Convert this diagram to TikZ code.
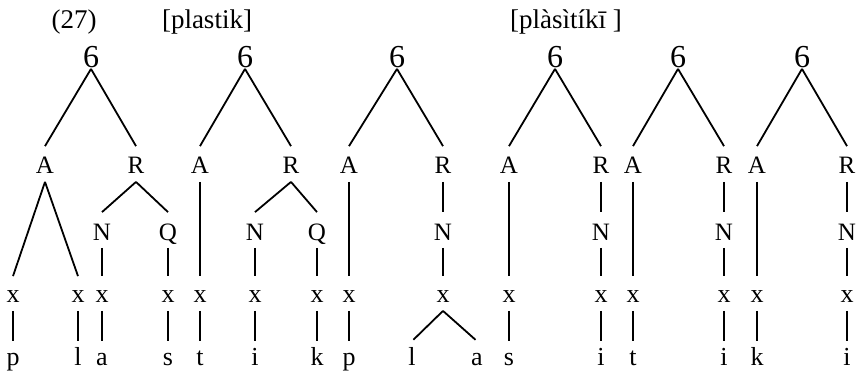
\documentclass[tikz,border=0pt]{standalone}
\usepackage{fontspec}
\setmainfont{Liberation Serif}

\begin{document}
\begin{tikzpicture}[x=1pt,y=-1pt,line width=1.8pt,
  every node/.style={inner sep=0pt,anchor=base},
  title/.style={font=\fontsize{27}{30}\selectfont},
  syl/.style={font=\fontsize{32}{35}\selectfont,text depth=1pt},
  onr/.style={font=\fontsize{25}{28}\selectfont,text height=26pt,text depth=8pt},
  nuc/.style={font=\fontsize{25}{28}\selectfont,text height=27pt,text depth=7pt},
  slot/.style={font=\fontsize{26}{29}\selectfont,text height=25pt,text depth=8pt},
  seg/.style={font=\fontsize{26}{29}\selectfont,text height=23pt,text depth=2pt}]
    \useasboundingbox (0,0) rectangle (860,373);
    % titles
    \node[title] (ex) at (74,28) {(27)};
    \node[title] (w1) at (207,28) {[plastik]};
    \node[title] (w2) at (566,28) {[plàsìtíkī ]};
    % syllables
    \node[syl] (s1) at (91,67) {6};
    \node[syl] (s2) at (245,67) {6};
    \node[syl] (s3) at (397,67) {6};
    \node[syl] (s4) at (555,67) {6};
    \node[syl] (s5) at (678,67) {6};
    \node[syl] (s6) at (802,67) {6};
    % onsets and rhymes
    \node[onr] (a1) at (45,173) {A};  \node[onr] (r1) at (136,173) {R};
    \node[onr] (a2) at (200,173) {A}; \node[onr] (r2) at (291,173) {R};
    \node[onr] (a3) at (349,173) {A}; \node[onr] (r3) at (443,173) {R};
    \node[onr] (a4) at (509,173) {A}; \node[onr] (r4) at (601,173) {R};
    \node[onr] (a5) at (633,173) {A}; \node[onr] (r5) at (724,173) {R};
    \node[onr] (a6) at (757,173) {A}; \node[onr] (r6) at (847,173) {R};
    % nuclei and codas
    \node[nuc] (n1) at (102,240) {N}; \node[nuc] (q1) at (168,240) {Q};
    \node[nuc] (n2) at (255,240) {N}; \node[nuc] (q2) at (317,240) {Q};
    \node[nuc] (n3) at (443,240) {N};
    \node[nuc] (n4) at (601,240) {N};
    \node[nuc] (n5) at (724,240) {N};
    \node[nuc] (n6) at (847,240) {N};
    % skeleton
    \node[slot] (x1) at (13,302) {x};
    \node[slot] (x2) at (78,302) {x};
    \node[slot] (x3) at (102,302) {x};
    \node[slot] (x4) at (168,302) {x};
    \node[slot] (x5) at (200,302) {x};
    \node[slot] (x6) at (255,302) {x};
    \node[slot] (x7) at (317,302) {x};
    \node[slot] (x8) at (349,302) {x};
    \node[slot] (x9) at (443,302) {x};
    \node[slot] (x10) at (509,302) {x};
    \node[slot] (x11) at (601,302) {x};
    \node[slot] (x12) at (633,302) {x};
    \node[slot] (x13) at (724,302) {x};
    \node[slot] (x14) at (757,302) {x};
    \node[slot] (x15) at (847,302) {x};
    % segments
    \node[seg] (p1) at (13,365) {p};
    \node[seg] (l1) at (78,365) {l};
    \node[seg] (v1) at (102,365) {a};
    \node[seg] (s7) at (168,365) {s};
    \node[seg] (t1) at (200,365) {t};
    \node[seg] (v2) at (255,365) {i};
    \node[seg] (k1) at (317,365) {k};
    \node[seg] (p2) at (349,365) {p};
    \node[seg] (l2) at (412,365) {l};
    \node[seg] (v3) at (477,365) {a};
    \node[seg] (s8) at (509,365) {s};
    \node[seg] (v4) at (601,365) {i};
    \node[seg] (t2) at (633,365) {t};
    \node[seg] (v5) at (724,365) {i};
    \node[seg] (k2) at (757,365) {k};
    \node[seg] (v6) at (847,365) {i};
    % [plastik]
    \path (s1.south) edge (a1.north) (s1.south) edge (r1.north)
    (a1.south) edge (x1.north) (a1.south) edge (x2.north)
    (r1.south) edge (n1.north) (r1.south) edge (q1.north)
    (n1.south) edge (x3.north) (q1.south) edge (x4.north)
    (x1.south) edge (p1.north) (x2.south) edge (l1.north)
    (x3.south) edge (v1.north) (x4.south) edge (s7.north);
    \path (s2.south) edge (a2.north) (s2.south) edge (r2.north)
    (a2.south) edge (x5.north)
    (r2.south) edge (n2.north) (r2.south) edge (q2.north)
    (n2.south) edge (x6.north) (q2.south) edge (x7.north)
    (x5.south) edge (t1.north) (x6.south) edge (v2.north)
    (x7.south) edge (k1.north);
    % [plasitiki]
    \path (s3.south) edge (a3.north) (s3.south) edge (r3.north)
    (a3.south) edge (x8.north) (r3.south) edge (n3.north)
    (n3.south) edge (x9.north) (x8.south) edge (p2.north)
    (x9.south) edge[shorten >=2pt] (l2.north)
    (x9.south) edge[shorten >=2pt] (v3.north);
    \path (s4.south) edge (a4.north) (s4.south) edge (r4.north)
    (a4.south) edge (x10.north) (r4.south) edge (n4.north)
    (n4.south) edge (x11.north)
    (x10.south) edge (s8.north) (x11.south) edge (v4.north);
    \path (s5.south) edge (a5.north) (s5.south) edge (r5.north)
    (a5.south) edge (x12.north) (r5.south) edge (n5.north)
    (n5.south) edge (x13.north)
    (x12.south) edge (t2.north) (x13.south) edge (v5.north);
    \path (s6.south) edge (a6.north) (s6.south) edge (r6.north)
    (a6.south) edge (x14.north) (r6.south) edge (n6.north)
    (n6.south) edge (x15.north)
    (x14.south) edge (k2.north) (x15.south) edge (v6.north);
\end{tikzpicture}
\end{document}
